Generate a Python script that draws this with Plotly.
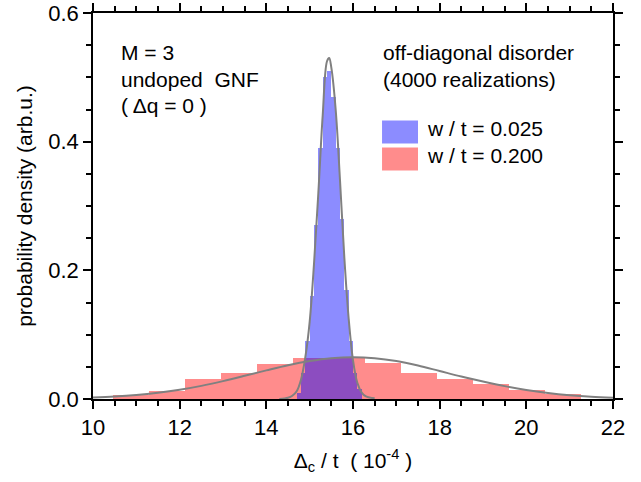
import plotly.graph_objects as go

# ---------------- data ----------------
red_edges = [10.46, 11.29, 12.12, 12.95, 13.78, 14.61, 15.44, 16.27, 17.10,
             17.93, 18.76, 19.59, 20.42, 21.25]
red_heights = [0.006, 0.013, 0.031, 0.040, 0.054, 0.063, 0.064, 0.056,
               0.041, 0.031, 0.023, 0.014, 0.008]

blue_edges = [14.7, 14.8, 14.9, 15.0, 15.1, 15.2, 15.3, 15.4, 15.5, 15.6,
              15.7, 15.8, 15.9, 16.0, 16.1, 16.2]
blue_heights = [0.010, 0.040, 0.090, 0.160, 0.270, 0.390, 0.500, 0.510,
                0.470, 0.390, 0.280, 0.170, 0.090, 0.040, 0.015]

red_fit_x = [10.0, 10.5, 11.0, 11.5, 12.0, 12.5, 13.0, 13.5, 14.0, 14.5, 15.0,
             15.5, 16.0, 16.5, 17.0, 17.5, 18.0, 18.5, 19.0, 19.5, 20.0, 20.5,
             21.0, 21.5, 22.0]
red_fit_y = [0.0022, 0.0037, 0.0061, 0.0096, 0.0143, 0.0204, 0.0278, 0.0360,
             0.0445, 0.0526, 0.0591, 0.0635, 0.0650, 0.0635, 0.0591, 0.0520,
             0.0435, 0.0350, 0.0272, 0.0200, 0.0140, 0.0094, 0.0060, 0.0036,
             0.0021]

blue_fit_x = [14.3, 14.5, 14.6, 14.7, 14.8, 14.9, 15.0, 15.1, 15.2, 15.3, 15.4,
              15.45, 15.5, 15.6, 15.7, 15.8, 15.9, 16.0, 16.1, 16.2, 16.3, 16.5]
blue_fit_y = [0.000, 0.002, 0.005, 0.012, 0.030, 0.065, 0.120, 0.210, 0.320,
              0.440, 0.525, 0.530, 0.515, 0.450, 0.340, 0.220, 0.125, 0.060,
              0.025, 0.010, 0.004, 0.001]

legend_labels = ["w / t = 0.025", "w / t = 0.200"]
x_ticks = [10, 12, 14, 16, 18, 20, 22]
y_ticks = [0.0, 0.2, 0.4, 0.6]

# ---------------- figure ----------------
BLUE = "rgba(0,0,255,0.45)"
RED = "rgba(255,0,0,0.45)"
FONT = "Liberation Sans, Arial, sans-serif"

def centers(e):
    return [(a + b) / 2 for a, b in zip(e[:-1], e[1:])]

def widths(e):
    return [b - a for a, b in zip(e[:-1], e[1:])]

fig = go.Figure()
fig.add_trace(go.Bar(x=centers(red_edges), y=red_heights, width=widths(red_edges),
                     marker=dict(color=RED, line=dict(width=0)), showlegend=False))
fig.add_trace(go.Bar(x=centers(blue_edges), y=blue_heights, width=widths(blue_edges),
                     marker=dict(color=BLUE, line=dict(width=0)), showlegend=False))
fig.add_trace(go.Scatter(x=red_fit_x, y=red_fit_y, mode="lines", line_shape="spline",
                         line=dict(color="#808080", width=2), showlegend=False))
fig.add_trace(go.Scatter(x=blue_fit_x, y=blue_fit_y, mode="lines", line_shape="spline",
                         line=dict(color="#808080", width=2), showlegend=False))

axis_common = dict(
    showline=True, linecolor="black", linewidth=1.5, mirror="ticks",
    ticks="outside", ticklen=8, tickwidth=1.5, tickcolor="black",
    showgrid=False, zeroline=False, automargin=False,
    tickfont=dict(family=FONT, size=22, color="black"),
)

fig.update_layout(
    width=641, height=482,
    margin=dict(l=93, r=28, t=13, b=83),
    paper_bgcolor="white", plot_bgcolor="white",
    barmode="overlay", bargap=0,
    font=dict(family=FONT, color="black"),
    xaxis=dict(range=[10, 22], tickvals=x_ticks,
               minor=dict(dtick=0.5, ticks="outside", ticklen=5, tickwidth=1.5,
                          tickcolor="black", showgrid=False),
               title=dict(text="Δ<sub>c</sub> / t  ( 10<sup>-4</sup> )",
                          font=dict(family=FONT, size=21), standoff=14),
               **axis_common),
    yaxis=dict(range=[0, 0.6], tickvals=y_ticks, tickformat=".1f",
               minor=dict(dtick=0.05, ticks="outside", ticklen=5, tickwidth=1.5,
                          tickcolor="black", showgrid=False),
               title=dict(text="probability density (arb.u.)",
                          font=dict(family=FONT, size=21), standoff=10),
               **axis_common),
)

# legend swatches
fig.add_shape(type="rect", xref="x", yref="y", x0=16.67, x1=17.50, y0=0.397, y1=0.433,
              fillcolor=BLUE, line=dict(width=0))
fig.add_shape(type="rect", xref="x", yref="y", x0=16.67, x1=17.50, y0=0.355, y1=0.391,
              fillcolor=RED, line=dict(width=0))

def txt(x, y, s):
    fig.add_annotation(x=x, y=y, xref="paper", yref="paper", text=s, showarrow=False,
                       xanchor="left", yanchor="middle",
                       font=dict(family=FONT, size=21, color="black"))

txt(0.050, 0.897, "M = 3")
txt(0.050, 0.829, "undoped  GNF")
txt(0.050, 0.760, "( Δq = 0 )")
txt(0.553, 0.897, "off-diagonal disorder")
txt(0.553, 0.829, "(4000 realizations)")
txt(0.638, 0.700, legend_labels[0])
txt(0.638, 0.630, legend_labels[1])

fig.write_html("out.html")
